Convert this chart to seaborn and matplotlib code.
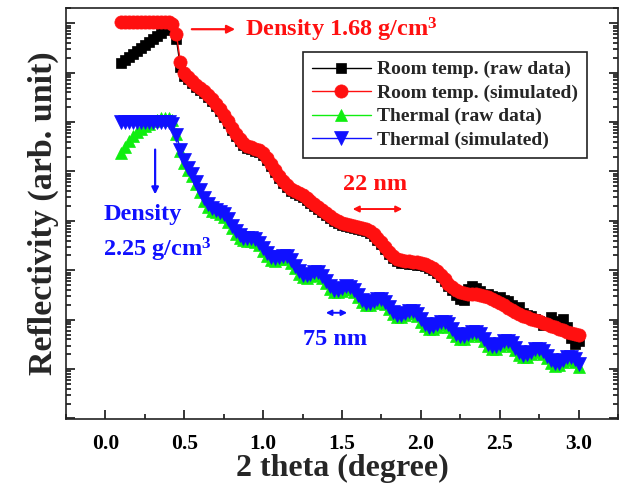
import numpy as np
import matplotlib
matplotlib.use("Agg")
import matplotlib.pyplot as plt
import seaborn as sns
from matplotlib.ticker import LogLocator, NullFormatter, MultipleLocator

# 2 theta grid (degree), 0.025 step
two_theta = np.round(np.arange(0.1, 3.0001, 0.025), 3)

# log10 of reflectivity (arb. unit)
room_raw_log = [
    6.20, 6.26, 6.32, 6.38, 6.44, 6.50, 6.56, 6.62,
    6.68, 6.74, 6.80, 6.86, 6.92, 6.97, 6.68, 6.12,
    5.93, 5.87, 5.79, 5.71, 5.65, 5.59, 5.51, 5.43,
    5.33, 5.23, 5.10, 4.98, 4.84, 4.72, 4.62, 4.54,
    4.48, 4.45, 4.42, 4.39, 4.33, 4.23, 4.11, 3.99,
    3.87, 3.77, 3.69, 3.61, 3.57, 3.53, 3.48, 3.42,
    3.36, 3.30, 3.24, 3.18, 3.12, 3.06, 3.00, 2.96,
    2.92, 2.90, 2.88, 2.86, 2.84, 2.82, 2.79, 2.75,
    2.70, 2.61, 2.53, 2.43, 2.33, 2.25, 2.19, 2.15,
    2.14, 2.13, 2.12, 2.11, 2.10, 2.08, 2.04, 2.00,
    1.95, 1.87, 1.78, 1.68, 1.60, 1.50, 1.42, 1.40,
    1.62, 1.68, 1.64, 1.58, 1.50, 1.52, 1.47, 1.44,
    1.46, 1.40, 1.38, 1.30, 1.22, 1.26, 1.14, 1.10,
    1.08, 1.02, 0.97, 0.90, 0.95, 1.05, 0.98, 0.90,
    1.02, 0.86, 0.62, 0.50, 0.56,
]
room_sim_log = [
    7.03, 7.03, 7.03, 7.03, 7.03, 7.03, 7.03, 7.03,
    7.03, 7.03, 7.03, 7.03, 7.02, 6.99, 6.78, 6.22,
    5.99, 5.91, 5.83, 5.75, 5.69, 5.63, 5.55, 5.47,
    5.37, 5.27, 5.14, 5.02, 4.88, 4.76, 4.66, 4.58,
    4.52, 4.49, 4.46, 4.43, 4.37, 4.27, 4.15, 4.03,
    3.91, 3.81, 3.73, 3.65, 3.61, 3.57, 3.52, 3.46,
    3.40, 3.34, 3.28, 3.22, 3.16, 3.10, 3.04, 3.00,
    2.96, 2.94, 2.92, 2.90, 2.88, 2.86, 2.84, 2.80,
    2.74, 2.65, 2.57, 2.47, 2.37, 2.29, 2.23, 2.20,
    2.19, 2.18, 2.17, 2.16, 2.15, 2.13, 2.09, 2.05,
    1.99, 1.91, 1.82, 1.72, 1.66, 1.60, 1.56, 1.54,
    1.53, 1.52, 1.51, 1.50, 1.48, 1.46, 1.42, 1.38,
    1.34, 1.30, 1.24, 1.20, 1.16, 1.12, 1.08, 1.05,
    1.01, 0.99, 0.97, 0.93, 0.91, 0.88, 0.85, 0.82,
    0.79, 0.76, 0.73, 0.71, 0.69,
]
thermal_raw_log = [
    4.37, 4.50, 4.62, 4.72, 4.80, 4.86, 4.92, 4.97,
    5.02, 5.05, 5.08, 5.09, 5.09, 5.04, 4.76, 4.41,
    4.18, 4.02, 3.90, 3.74, 3.58, 3.41, 3.29, 3.21,
    3.17, 3.13, 3.08, 2.98, 2.85, 2.74, 2.66, 2.61,
    2.60, 2.60, 2.58, 2.51, 2.40, 2.29, 2.21, 2.19,
    2.22, 2.24, 2.23, 2.15, 2.04, 1.93, 1.86, 1.85,
    1.88, 1.91, 1.91, 1.84, 1.74, 1.63, 1.56, 1.56,
    1.59, 1.63, 1.62, 1.56, 1.45, 1.35, 1.29, 1.29,
    1.33, 1.37, 1.37, 1.31, 1.21, 1.11, 1.05, 1.05,
    1.09, 1.13, 1.13, 1.07, 0.96, 0.87, 0.81, 0.82,
    0.86, 0.91, 0.91, 0.86, 0.76, 0.67, 0.61, 0.61,
    0.66, 0.71, 0.71, 0.66, 0.56, 0.46, 0.41, 0.41,
    0.46, 0.51, 0.52, 0.47, 0.38, 0.29, 0.24, 0.25,
    0.30, 0.35, 0.36, 0.31, 0.22, 0.13, 0.07, 0.08,
    0.14, 0.19, 0.20, 0.15, 0.05,
]
thermal_sim_log = [
    5.00, 5.00, 5.00, 5.00, 5.00, 5.00, 5.00, 5.00,
    5.00, 5.00, 5.00, 5.00, 5.00, 4.96, 4.74, 4.44,
    4.23, 4.07, 3.95, 3.79, 3.63, 3.46, 3.34, 3.26,
    3.22, 3.18, 3.13, 3.03, 2.90, 2.79, 2.71, 2.66,
    2.65, 2.65, 2.63, 2.56, 2.45, 2.34, 2.26, 2.24,
    2.27, 2.29, 2.28, 2.20, 2.09, 1.98, 1.91, 1.90,
    1.93, 1.96, 1.96, 1.89, 1.79, 1.68, 1.61, 1.61,
    1.64, 1.68, 1.67, 1.61, 1.50, 1.40, 1.34, 1.34,
    1.38, 1.42, 1.42, 1.36, 1.26, 1.16, 1.10, 1.10,
    1.14, 1.18, 1.18, 1.12, 1.01, 0.92, 0.86, 0.87,
    0.91, 0.96, 0.96, 0.91, 0.81, 0.72, 0.66, 0.66,
    0.71, 0.76, 0.76, 0.71, 0.61, 0.51, 0.46, 0.46,
    0.51, 0.56, 0.57, 0.52, 0.43, 0.34, 0.29, 0.30,
    0.35, 0.40, 0.41, 0.36, 0.27, 0.18, 0.12, 0.13,
    0.19, 0.24, 0.25, 0.20, 0.10,
]

labels = [
    "Room temp. (raw data)",
    "Room temp. (simulated)",
    "Thermal (raw data)",
    "Thermal (simulated)",
]
x_ticks = [0.0, 0.5, 1.0, 1.5, 2.0, 2.5, 3.0]

sns.set_theme(style="ticks")
plt.rcParams["font.family"] = ["Liberation Serif", "DejaVu Serif"]
plt.rcParams["font.weight"] = "bold"
plt.rcParams["mathtext.fontset"] = "custom"
plt.rcParams["mathtext.rm"] = "Liberation Serif:bold"
plt.rcParams["mathtext.default"] = "rm"

fig = plt.figure(figsize=(6.24, 4.86), dpi=100)
ax = fig.add_axes([0.1058, 0.1379, 0.8846, 0.8457])

red = "#ff1010"
blue = "#1010ff"
series = [
    (room_raw_log, "black", "s", 7.5),
    (room_sim_log, red, "o", 9.5),
    (thermal_raw_log, "#10ee10", "^", 9.0),
    (thermal_sim_log, blue, "v", 9.5),
]
for (vals, col, mk, ms), lab in zip(series, labels):
    assert len(vals) == len(two_theta)
    sns.lineplot(
        x=two_theta, y=10 ** np.array(vals), ax=ax, color=col, marker=mk,
        markersize=ms, markeredgecolor=col, markeredgewidth=0.5,
        linewidth=1, label=lab, sort=False,
    )

ax.set_yscale("log")
ax.set_xlim(-0.25, 3.25)
ax.set_ylim(10 ** -1.01, 10 ** 7.31)
ax.set_xticks(x_ticks)
ax.xaxis.set_minor_locator(MultipleLocator(0.25))
ax.yaxis.set_major_locator(LogLocator(base=10, numticks=20))
ax.yaxis.set_minor_locator(LogLocator(base=10, subs=np.arange(2, 10), numticks=20))
ax.yaxis.set_major_formatter(NullFormatter())
ax.yaxis.set_minor_formatter(NullFormatter())
ax.set_xticklabels([f"{t:.1f}" for t in x_ticks])

ax.tick_params(which="both", direction="in", width=1.1, colors="black")
ax.tick_params(axis="y", which="both", left=True, right=True, labelleft=False)
ax.tick_params(axis="x", which="both", top=False)
ax.tick_params(which="major", length=6.5)
ax.tick_params(which="minor", length=3.5)
ax.tick_params(axis="x", labelsize=15.5, pad=11)
for lbl in ax.get_xticklabels():
    lbl.set_fontweight("bold")
for sp in ax.spines.values():
    sp.set_visible(True)
    sp.set_linewidth(1.2)
    sp.set_color("#222222")

ax.set_xlabel("2 theta (degree)", fontsize=23, fontweight="bold", labelpad=0)
ax.set_ylabel("Reflectivity (arb. unit)", fontsize=24.5, fontweight="bold", labelpad=5)

leg = ax.legend(
    loc="upper right", bbox_to_anchor=(0.944, 0.893), borderaxespad=0,
    frameon=True, fancybox=False, edgecolor="#222222", framealpha=1,
    prop={"weight": "bold", "size": 14}, handlelength=3.0,
    labelspacing=0.3, borderpad=0.45, handletextpad=0.35,
)
leg.get_frame().set_linewidth(1.2)

txt = dict(fontsize=17.5, fontweight="bold", va="center", ha="left")
ax.annotate("", xy=(0.84, 10 ** 6.88), xytext=(0.53, 10 ** 6.88),
            arrowprops=dict(arrowstyle="-|>", color=red, lw=1.6, mutation_scale=12))
ax.text(0.885, 10 ** 6.86, "Density 1.68 g/cm$^3$", color=red, **txt)

ax.annotate("", xy=(0.315, 10 ** 3.48), xytext=(0.315, 10 ** 4.50),
            arrowprops=dict(arrowstyle="-|>", color=blue, lw=1.6, mutation_scale=10))
ax.text(-0.015, 10 ** 3.12, "Density", color=blue, **txt)
ax.text(-0.015, 10 ** 2.41, "2.25 g/cm$^3$", color=blue, **txt)

ax.annotate("", xy=(1.90, 10 ** 3.24), xytext=(1.55, 10 ** 3.24),
            arrowprops=dict(arrowstyle="<|-|>", color=red, lw=1.4, mutation_scale=9))
ax.text(1.71, 10 ** 3.73, "22 nm", color=red, **{**txt, "ha": "center"})

ax.annotate("", xy=(1.55, 10 ** 1.14), xytext=(1.38, 10 ** 1.14),
            arrowprops=dict(arrowstyle="<|-|>", color=blue, lw=1.4, mutation_scale=8))
ax.text(1.455, 10 ** 0.59, "75 nm", color=blue, **{**txt, "ha": "center"})

fig.savefig("out.png", dpi=100)
